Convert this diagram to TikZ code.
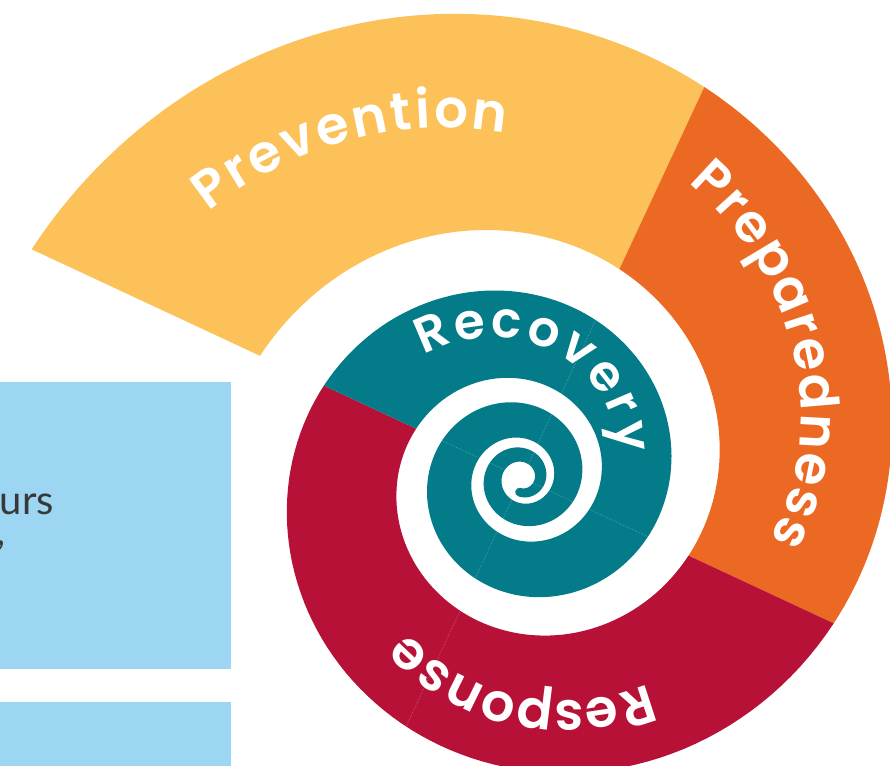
\documentclass[tikz,border=0pt]{standalone}
\usepackage{fontspec}
\usetikzlibrary{calc,decorations.text}

\newfontfamily\bandfont{Poppins}[BoldFont={* SemiBold}]
\newfontfamily\copyfont{Lato}

\definecolor{prevyellow}{HTML}{FCC259}
\definecolor{preporange}{HTML}{EB6923}
\definecolor{respred}{HTML}{B71137}
\definecolor{recteal}{HTML}{037B89}
\definecolor{boxblue}{HTML}{9DD6F2}
\definecolor{copygrey}{HTML}{383838}

% spiral centre
\def\cx{522}
\def\cy{287}

\tikzset{
  declare function={
    ro(\t)=541*exp(-0.00252*\t);
    ri(\t)=289*exp(-0.00252*\t);
  },
  ray/.style={white, opacity=0.35, line width=0.6pt, densely dotted},
  bandtext/.style n args={3}{decorate, font=#2,
    decoration={text effects along path, text={#1}, text align=center,
      text effects/.cd, text along path,
      characters={text=white, font=#2},
      character widths={inner xsep=#3}}},
}

% piece of the outer band, from t=#1 to t=#2 (t grows clockwise)
\newcommand\bandpath[2]{plot[domain=#1:#2, samples=80] ({\cx+ro(\x)*cos(155-\x)},{\cy+ro(\x)*sin(155-\x)})
  -- plot[domain=#2:#1, samples=80] ({\cx+ri(\x)*cos(155-\x)},{\cy+ri(\x)*sin(155-\x)}) -- cycle}

% the inner turns, ending in a round tip
\newcommand\tealpath{plot[domain=360:1335, samples=400] ({\cx+ro(\x)*cos(155-\x)},{\cy+ro(\x)*sin(155-\x)})
  arc[start angle=-1180, end angle=-1360, radius=4.36]
  -- plot[domain=1335:360, samples=400] ({\cx+ri(\x)*cos(155-\x)},{\cy+ri(\x)*sin(155-\x)}) -- cycle}

% baseline for a label: t from #1 to #2, radius from #3 to #4
\newcommand\textpath[4]{plot[domain=#1:#2, samples=60]
  ({\cx+(#3+(#4-#3)*(\x-#1)/(#2-#1))*cos(155-\x)},{\cy+(#3+(#4-#3)*(\x-#1)/(#2-#1))*sin(155-\x)})}

\begin{document}
\begin{tikzpicture}[x=1pt, y=1pt]
  \useasboundingbox (0,0) rectangle (890,765);
  \clip (0,0) rectangle (890,765);

  % text boxes on the left
  \fill[boxblue] (0,96) rectangle (231,383);
  \fill[boxblue] (0,-5) rectangle (231,63);
  \node[anchor=base east, inner sep=0, text=copygrey, font=\copyfont\fontsize{40}{40}\selectfont] (word) at (54,250) {urs};
  \node[anchor=base east, inner sep=0, text=copygrey, font=\copyfont\fontsize{40}{40}\selectfont] (comma) at (6,219) {,};

  % outer band
  \fill[prevyellow] \bandpath{0}{90};
  \fill[preporange] \bandpath{90}{180};
  \fill[respred] \bandpath{180}{360};
  \coordinate (C) at (\cx,\cy);
  \draw[ray] ($(C)+(-115:{ri(270)})$) coordinate (r1) -- ($(C)+(-115:{ro(270)})$) coordinate (r2);

  % inner turns
  \fill[recteal] \tealpath;
  \begin{scope}
    \clip \tealpath;
    \foreach \a in {65,-25,-115} \draw[ray] (C) -- ++(\a:240);
    \draw[ray] (C) -- ++(155:100);
  \end{scope}

  % labels
  \path[bandtext={Prevention}{\bandfont\bfseries\fontsize{53}{53}\selectfont}{1.5pt}] \textpath{5}{75}{426}{327};
  \path[bandtext={Preparedness}{\bandfont\bfseries\fontsize{53}{53}\selectfont}{1pt}] \textpath{87}{179}{347}{245};
  \path[bandtext={Response}{\bandfont\bfseries\fontsize{53}{53}\selectfont}{0pt}] \textpath{204}{294}{249}{183};
  \path[bandtext={Recovery}{\bandfont\bfseries\fontsize{50}{50}\selectfont}{1.8pt}] \textpath{384}{504}{159}{96};
\end{tikzpicture}
\end{document}
